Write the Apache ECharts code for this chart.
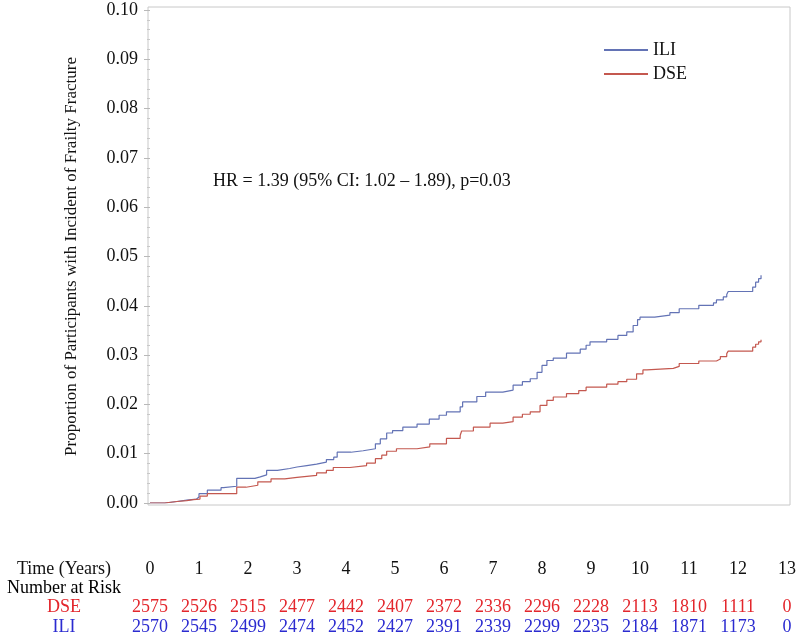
<!DOCTYPE html>
<html>
<head>
<meta charset="utf-8">
<script src="https://cdn.jsdelivr.net/npm/echarts@6/dist/echarts.min.js"></script>
<style>html,body{margin:0;padding:0;background:#fff;}#c{width:800px;height:636px;}</style>
</head>
<body>
<div id="c"></div>
<script>
// ---- data ----
var iliTimes = [0,0.3,0.55,0.75,0.95,1.0,1.17,1.45,1.5,1.77,2.14,2.25,2.38,2.6,2.85,3.0,3.2,3.4,3.6,3.75,3.82,4.1,4.35,4.6,4.7,4.83,4.95,5.16,5.45,5.7,5.9,6.05,6.33,6.38,6.67,6.85,7.2,7.41,7.6,7.76,7.9,8.0,8.1,8.23,8.5,8.78,8.9,8.98,9.32,9.55,9.73,9.86,9.95,10.0,10.3,10.61,10.8,11.2,11.5,11.56,11.7,11.77,11.8,12.3,12.36,12.42,12.47];
var iliValues = [0,0.0003,0.0006,0.0008,0.0012,0.0019,0.0026,0.0031,0.0034,0.0050,0.0053,0.0057,0.0066,0.0070,0.0073,0.0076,0.0079,0.0083,0.0088,0.0093,0.0103,0.0106,0.0110,0.0120,0.0130,0.0142,0.0147,0.0154,0.0160,0.0170,0.0178,0.0185,0.0195,0.0205,0.0216,0.0225,0.0229,0.0239,0.0246,0.0252,0.0265,0.0279,0.0289,0.0294,0.0304,0.0312,0.0320,0.0327,0.0332,0.0340,0.0347,0.0360,0.0372,0.0377,0.0381,0.0386,0.0394,0.0401,0.0406,0.0412,0.0418,0.0423,0.0429,0.0438,0.0448,0.0455,0.0462];
var dseTimes = [0,0.3,0.55,0.75,0.88,1.02,1.17,1.77,1.96,2.2,2.47,2.75,3.0,3.4,3.6,3.74,4.08,4.42,4.6,4.73,4.83,5.03,5.45,5.71,6.05,6.33,6.36,6.6,6.94,7.2,7.41,7.6,7.76,7.96,8.1,8.23,8.5,8.75,8.9,9.32,9.55,9.73,9.93,10.06,10.14,10.68,10.8,11.2,11.56,11.64,11.77,11.8,12.3,12.36,12.42,12.47];
var dseValues = [0,0.0003,0.0005,0.0007,0.0008,0.0014,0.0019,0.0032,0.0036,0.0043,0.0049,0.0052,0.0056,0.0061,0.0066,0.0072,0.0076,0.0081,0.0090,0.0097,0.0105,0.0110,0.0114,0.0120,0.0131,0.0137,0.0146,0.0154,0.0162,0.0165,0.0174,0.0180,0.0185,0.0198,0.0208,0.0215,0.0222,0.0228,0.0235,0.0241,0.0246,0.0251,0.0262,0.0270,0.0273,0.0277,0.0283,0.0288,0.0292,0.0297,0.0303,0.0308,0.0316,0.0322,0.0327,0.0331];
var yearTicks = [0,1,2,3,4,5,6,7,8,9,10,11,12,13];
var dseAtRisk = [2575,2526,2515,2477,2442,2407,2372,2336,2296,2228,2113,1810,1111,0];
var iliAtRisk = [2570,2545,2499,2474,2452,2427,2391,2339,2299,2235,2184,1871,1173,0];
var yTicks = [0,0.01,0.02,0.03,0.04,0.05,0.06,0.07,0.08,0.09,0.10];
var hrText = 'HR = 1.39 (95% CI: 1.02 \u2013 1.89), p=0.03';
var yName = 'Proportion of Participants with Incident of Frailty Fracture';

// ---- chart ----
var FONT = '"Liberation Serif", "Times New Roman", serif';
var FS = 18;
var RED = '#e3262c', BLUE = '#2b2bd0';
var ILI_LINE = '#6373b5', DSE_LINE = '#c4584f';
function pairs(t, v){ return t.map(function(x,i){ return [x, v[i]]; }); }
function atRiskAxis(arr, color, off){
  return {
    type:'value', gridIndex:0, position:'bottom', min:0, max:13, interval:1, offset:off,
    axisLine:{show:false}, axisTick:{show:false}, splitLine:{show:false},
    axisLabel:{show:true, margin:0, color:color, fontFamily:FONT, fontSize:FS,
      formatter:function(v){ var i = yearTicks.indexOf(Math.round(v)); return i>=0 ? String(arr[i]) : ''; }}
  };
}
var chart = echarts.init(document.getElementById('c'), null, {renderer:'canvas'});
chart.setOption({
  backgroundColor:'#ffffff',
  animation:false,
  title:{ text:hrText, left:208, top:167, textStyle:{fontFamily:FONT, fontSize:FS, fontWeight:'normal', color:'#111'} },
  legend:{
    left:598, top:36, orient:'vertical', itemWidth:44, itemHeight:14, itemGap:6,
    textStyle:{fontFamily:FONT, fontSize:FS, color:'#111'},
    itemStyle:{opacity:0, borderWidth:0},
    data:['ILI','DSE']
  },
  grid:[
    {left:150, right:13, top:10, bottom:133, show:false},
    {left:148, right:10, top:7, bottom:131, show:true, borderColor:'#c8c8c8', borderWidth:1, backgroundColor:'transparent'}
  ],
  xAxis:[
    { type:'value', gridIndex:0, min:0, max:13, interval:1, position:'bottom', offset:0,
      axisLine:{show:false}, axisTick:{show:false}, splitLine:{show:false},
      axisLabel:{show:true, margin:57, color:'#111', fontFamily:FONT, fontSize:FS} },
    atRiskAxis(dseAtRisk, RED, 95),
    atRiskAxis(iliAtRisk, BLUE, 115),
    { type:'value', gridIndex:1, show:false, min:0, max:1 }
  ],
  yAxis:[
    { type:'value', gridIndex:0, min:0, max:0.1, interval:0.01, offset:2,
      name:yName, nameLocation:'middle', nameGap:68, nameRotate:90,
      nameTextStyle:{fontFamily:FONT, fontSize:FS-1, color:'#111'},
      axisLine:{show:false},
      axisTick:{show:true, length:6, lineStyle:{color:'#b8b8b8'}},
      minorTick:{show:true, splitNumber:5, length:3, lineStyle:{color:'#c8c8c8'}},
      splitLine:{show:false},
      axisLabel:{margin:10, color:'#111', fontFamily:FONT, fontSize:FS,
        formatter:function(v){ return v.toFixed(2); }} },
    { type:'value', gridIndex:1, show:false, min:0, max:1 }
  ],
  graphic:[
    {type:'text', x:64, y:569, style:{text:'Time (Years)', font:FS+'px '+FONT, fill:'#111', textAlign:'center', textVerticalAlign:'middle'}},
    {type:'text', x:64, y:588, style:{text:'Number at Risk', font:FS+'px '+FONT, fill:'#000', textAlign:'center', textVerticalAlign:'middle'}},
    {type:'text', x:64, y:607, style:{text:'DSE', font:FS+'px '+FONT, fill:RED, textAlign:'center', textVerticalAlign:'middle'}},
    {type:'text', x:64, y:627, style:{text:'ILI', font:FS+'px '+FONT, fill:BLUE, textAlign:'center', textVerticalAlign:'middle'}}
  ],
  series:[
    { name:'ILI', type:'line', xAxisIndex:0, yAxisIndex:0, step:'end', symbol:'none', showSymbol:false,
      data:pairs(iliTimes, iliValues), lineStyle:{color:ILI_LINE, width:1.2}, itemStyle:{color:ILI_LINE} },
    { name:'DSE', type:'line', xAxisIndex:0, yAxisIndex:0, step:'end', symbol:'none', showSymbol:false,
      data:pairs(dseTimes, dseValues), lineStyle:{color:DSE_LINE, width:1.2}, itemStyle:{color:DSE_LINE} }
  ]
});
</script>
</body>
</html>
